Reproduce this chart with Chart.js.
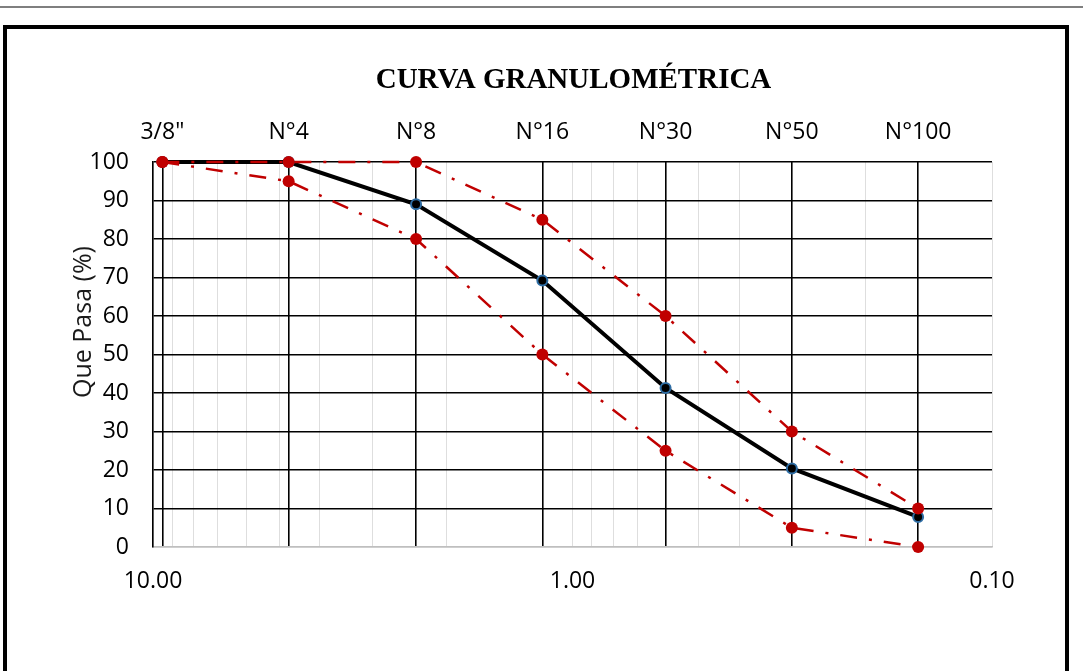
<!DOCTYPE html>
<html>
<head>
<meta charset="utf-8">
<script src="https://cdn.jsdelivr.net/npm/chart.js@4.4.1/dist/chart.umd.min.js"></script>
<style>
  html, body { margin: 0; padding: 0; background: #ffffff; }
  #wrap { width: 1083px; height: 671px; }
</style>
</head>
<body>
<div id="wrap"><canvas id="c" width="1083" height="671"></canvas></div>
<script>
// ---- Data ----
const sieveLabels = ['3/8"', 'N°4', 'N°8', 'N°16', 'N°30', 'N°50', 'N°100'];
const sieveSizes  = [9.5, 4.75, 2.36, 1.18, 0.6, 0.3, 0.15];
const pasa        = [100, 100, 89, 69.2, 41.3, 20.4, 7.8];
const upperLimit  = [100, 100, 100, 85, 60, 30, 10];
const lowerLimit  = [100, 95, 80, 50, 25, 5, 0];
const bottomTickValues = [10, 1, 0.1];
const bottomTickLabels = ['10.00', '1.00', '0.10'];
const yTicks = [0, 10, 20, 30, 40, 50, 60, 70, 80, 90, 100];
const chartTitle = 'CURVA GRANULOMÉTRICA';
const yTitle = 'Que Pasa (%)';

// minor log grid values between 0.1 and 10
const minorGrid = [];
[0.1, 1].forEach(d => { for (let k = 1; k <= 9; k++) minorGrid.push(+(d * k).toFixed(2)); });
minorGrid.push(10);

const pts = vals => sieveSizes.map((s, i) => ({ x: s, y: vals[i] }));

const RED = '#c00000';
const TICK_FONT = { family: '"Open Sans", sans-serif', size: 23 };

const framePlugin = {
  id: 'frame',
  beforeDraw(chart) {
    const ctx = chart.ctx;
    ctx.save();
    ctx.fillStyle = '#ffffff';
    ctx.fillRect(0, 0, chart.width, chart.height);
    ctx.fillStyle = '#7f7f7f';
    ctx.fillRect(0, 6, chart.width, 2);
    ctx.strokeStyle = '#000000';
    ctx.lineWidth = 4;
    ctx.strokeRect(5, 27, 1062, 720);
    ctx.restore();
  },
  afterDraw(chart) {
    const ctx = chart.ctx;
    const area = chart.chartArea;
    ctx.save();
    ctx.fillStyle = '#000000';
    ctx.textAlign = 'center';
    ctx.textBaseline = 'middle';
    ctx.font = 'bold 29px "Liberation Serif", serif';
    ctx.fillText(chartTitle, (area.left + area.right) / 2 + 1, 81);
    ctx.translate(84, 322);
    ctx.rotate(-Math.PI / 2);
    ctx.font = '25px "Open Sans", sans-serif';
    ctx.fillStyle = '#1a1a1a';
    ctx.fillText(yTitle, 0, 0);
    ctx.restore();
  }
};

new Chart(document.getElementById('c'), {
  type: 'scatter',
  data: {
    datasets: [
      {
        label: 'Límite superior',
        data: pts(upperLimit),
        showLine: true,
        borderColor: RED,
        backgroundColor: RED,
        borderWidth: 2.5,
        borderDash: [17, 12, 3, 12],
        pointRadius: 6,
        pointBackgroundColor: RED,
        pointBorderColor: RED,
        pointBorderWidth: 0,
        clip: false
      },
      {
        label: 'Límite inferior',
        data: pts(lowerLimit),
        showLine: true,
        borderColor: RED,
        backgroundColor: RED,
        borderWidth: 2.5,
        borderDash: [17, 12, 3, 12],
        pointRadius: 6,
        pointBackgroundColor: RED,
        pointBorderColor: RED,
        pointBorderWidth: 0,
        clip: false
      },
      {
        label: 'Muestra',
        data: pts(pasa),
        showLine: true,
        borderColor: '#000000',
        backgroundColor: '#000000',
        borderWidth: 4,
        pointRadius: 5,
        pointBackgroundColor: '#000000',
        pointBorderColor: '#2e6da4',
        pointBorderWidth: 2,
        clip: false
      }
    ]
  },
  options: {
    responsive: false,
    animation: false,
    layout: { padding: { left: 60, right: 91, top: 100, bottom: 64 } },
    plugins: {
      legend: { display: false },
      title: { display: false },
      tooltip: { enabled: false }
    },
    scales: {
      x: {
        type: 'logarithmic',
        position: 'bottom',
        min: 0.1,
        max: 10,
        reverse: true,
        afterBuildTicks: s => { s.ticks = minorGrid.map(v => ({ value: v })); },
        afterFit: s => { s.height = 60; },
        ticks: {
          autoSkip: false,
          maxRotation: 0,
          padding: 21,
          color: '#000000',
          font: TICK_FONT,
          callback: v => {
            const i = bottomTickValues.findIndex(b => Math.abs(b - v) < 1e-9);
            return i >= 0 ? bottomTickLabels[i] : '';
          }
        },
        grid: { color: '#dedede', lineWidth: 1, drawTicks: false },
        border: { display: true, color: '#bfbfbf', width: 1.5 }
      },
      x2: {
        type: 'logarithmic',
        position: 'top',
        min: 0.1,
        max: 10,
        reverse: true,
        afterBuildTicks: s => { s.ticks = sieveSizes.map(v => ({ value: v })); },
        afterFit: s => { s.height = 62; },
        ticks: {
          autoSkip: false,
          maxRotation: 0,
          padding: 16,
          color: '#000000',
          font: TICK_FONT,
          callback: (v, i) => sieveLabels[i]
        },
        grid: { color: '#000000', lineWidth: 1.6, drawTicks: false },
        border: { display: false }
      },
      y: {
        type: 'linear',
        min: 0,
        max: 100,
        afterBuildTicks: s => { s.ticks = yTicks.map(v => ({ value: v })); },
        afterFit: s => { s.width = 93; },
        ticks: {
          padding: 24,
          color: '#000000',
          font: TICK_FONT
        },
        grid: {
          color: c => (c.tick && c.tick.value === 0) ? '#bfbfbf' : '#000000',
          lineWidth: 1.6,
          drawTicks: false
        },
        border: { display: true, color: '#000000', width: 1.6 }
      }
    }
  },
  plugins: [framePlugin]
});
</script>
</body>
</html>
